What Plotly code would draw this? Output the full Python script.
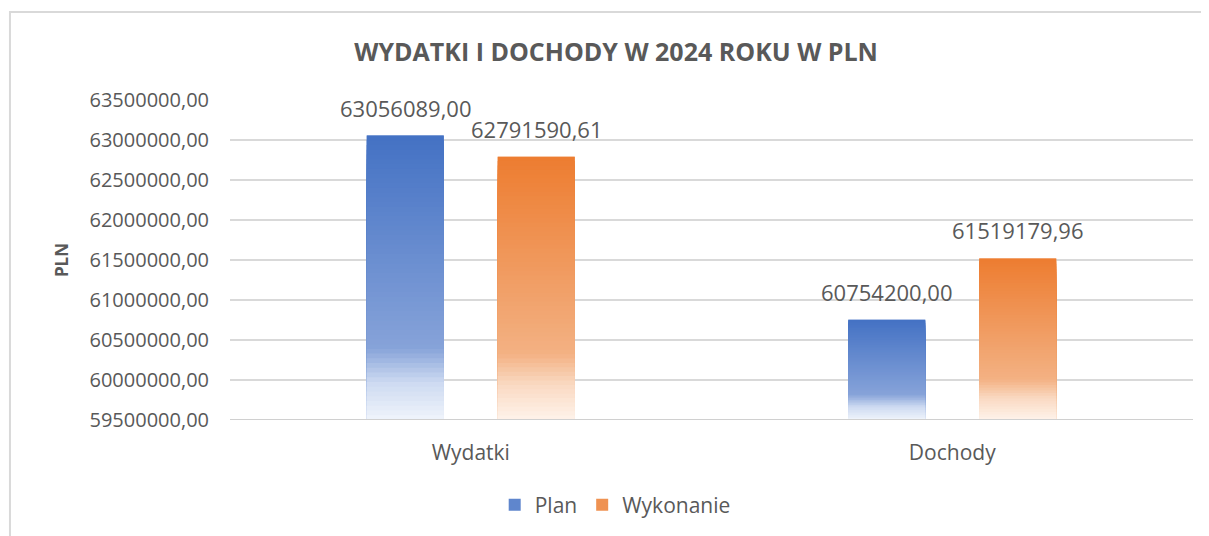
"""Wydatki i dochody w 2024 roku - plan vs wykonanie."""
import plotly.graph_objects as go

CATEGORIES = ["Wydatki", "Dochody"]
PLAN = [63056089.00, 60754200.00]
WYKONANIE = [62791590.61, 61519179.96]

Y_MIN = 59500000
Y_MAX = 63500000
Y_STEP = 500000

FONT = "Open Sans"
TEXT_COLOR = "#595959"
GRID = "#d9d9d9"

# colour stops from top of bar (0) to its base (1)
BLUE_STOPS = [(0.0, (68, 114, 196)), (0.74, (135, 163, 217)),
              (0.86, (205, 218, 241)), (1.0, (242, 246, 252))]
ORANGE_STOPS = [(0.0, (237, 125, 49)), (0.74, (243, 177, 131)),
                (0.86, (250, 218, 195)), (1.0, (254, 244, 237))]
N_BANDS = 60
SLOT_PX = 65.5  # half distance between the two bars of a group


def stop_color(stops, t):
    for (t0, c0), (t1, c1) in zip(stops, stops[1:]):
        if t <= t1:
            f = (t - t0) / (t1 - t0)
            rgb = [round(a + (b - a) * f) for a, b in zip(c0, c1)]
            return "rgb({},{},{})".format(*rgb)
    return "rgb({},{},{})".format(*stops[-1][1])


def pl(v):
    return f"{v:.2f}".replace(".", ",")


def add_series(fig, name, values, stops, group, shift):
    # main data trace (hover and legend); its colour only shows in the legend
    fig.add_trace(
        go.Bar(
            name=name,
            x=CATEGORIES,
            y=values,
            offsetgroup=group,
            marker=dict(color=stop_color(stops, 0.3), line=dict(width=0)),
            customdata=[pl(v) for v in values],
            hovertemplate="%{x}: %{customdata}<extra>" + name + "</extra>",
        )
    )
    # gradient: ever shorter bands from the axis minimum, each one lighter
    for k in range(N_BANDS, 0, -1):
        t = 1 - k / N_BANDS
        fig.add_trace(
            go.Bar(
                x=CATEGORIES,
                y=[(v - Y_MIN) * k / N_BANDS for v in values],
                base=[Y_MIN] * len(values),
                offsetgroup=group,
                marker=dict(color=stop_color(stops, t), line=dict(width=0)),
                showlegend=False,
                hoverinfo="skip",
            )
        )
    # data labels
    for cat, v in zip(CATEGORIES, values):
        fig.add_annotation(
            x=cat,
            y=v,
            xref="x",
            yref="y",
            text=pl(v),
            showarrow=False,
            xanchor="center",
            yanchor="bottom",
            xshift=shift,
            yshift=11,
            font=dict(size=22, color=TEXT_COLOR, family=FONT),
        )


fig = go.Figure()
add_series(fig, "Plan", PLAN, BLUE_STOPS, "plan", -SLOT_PX)
add_series(fig, "Wykonanie", WYKONANIE, ORANGE_STOPS, "wyk", SLOT_PX)

tick_vals = list(range(Y_MIN, Y_MAX + 1, Y_STEP))

fig.update_layout(
    width=1209,
    height=536,
    paper_bgcolor="white",
    plot_bgcolor="white",
    font=dict(family=FONT, color=TEXT_COLOR),
    separators=", ",
    barmode="group",
    bargap=0.456,
    bargroupgap=0.412,
    margin=dict(l=222, r=24, t=92, b=124),
    title=dict(
        text="<b>WYDATKI I DOCHODY W 2024 ROKU W PLN</b>",
        x=0.503,
        xanchor="center",
        y=0.918,
        yanchor="middle",
        font=dict(size=25, color=TEXT_COLOR, family=FONT),
    ),
    xaxis=dict(
        showgrid=False,
        showline=False,
        ticks="",
        ticklabelstandoff=18,
        tickfont=dict(size=21, color=TEXT_COLOR),
    ),
    yaxis=dict(
        range=[Y_MIN, Y_MAX],
        tickvals=tick_vals,
        ticktext=[pl(v) for v in tick_vals],
        showgrid=True,
        gridcolor=GRID,
        gridwidth=1.5,
        zeroline=False,
        showline=False,
        ticklabelstandoff=20,
        tickfont=dict(size=20, color=TEXT_COLOR),
        title=dict(text="<b>PLN</b>", font=dict(size=17, color=TEXT_COLOR), standoff=16),
    ),
    legend=dict(
        orientation="h",
        x=0.4,
        xanchor="center",
        y=-0.266,
        yanchor="middle",
        font=dict(size=21, color=TEXT_COLOR),
        itemwidth=30,
    ),
    shapes=[
        dict(
            type="rect",
            xref="paper",
            yref="paper",
            x0=-0.2285,
            x1=1.2,
            y0=-0.7,
            y1=1.275,
            line=dict(color="#d9d9d9", width=2),
            layer="below",
        ),
        dict(
            type="line",
            xref="paper",
            yref="y",
            x0=0,
            x1=1,
            y0=Y_MIN,
            y1=Y_MIN,
            line=dict(color="#d0d0d0", width=2),
        ),
    ],
)

fig.write_html("out.html")
